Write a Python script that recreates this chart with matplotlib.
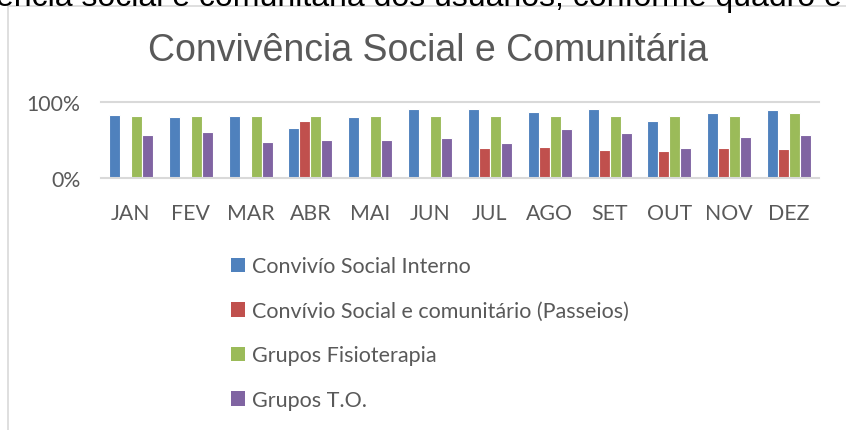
import numpy as np
import matplotlib.pyplot as plt
from matplotlib.patches import Rectangle
from matplotlib.ticker import PercentFormatter

meses = ['JAN', 'FEV', 'MAR', 'ABR', 'MAI', 'JUN', 'JUL', 'AGO', 'SET', 'OUT', 'NOV', 'DEZ']
convivio_interno = [0.83, 0.80, 0.82, 0.66, 0.80, 0.91, 0.91, 0.87, 0.91, 0.75, 0.86, 0.89]
convivio_passeios = [0, 0, 0, 0.75, 0, 0, 0.39, 0.41, 0.37, 0.36, 0.39, 0.38]
grupos_fisio = [0.82, 0.82, 0.82, 0.82, 0.82, 0.82, 0.82, 0.82, 0.82, 0.81, 0.81, 0.86]
grupos_to = [0.57, 0.60, 0.48, 0.50, 0.50, 0.53, 0.46, 0.65, 0.59, 0.39, 0.54, 0.56]

series = [
    ('Convivío Social Interno', convivio_interno, '#4f81bd'),
    ('Convívio Social e comunitário (Passeios)', convivio_passeios, '#c0504d'),
    ('Grupos Fisioterapia', grupos_fisio, '#9bbb59'),
    ('Grupos T.O.', grupos_to, '#8064a2'),
]

W, H = 846, 431
fig = plt.figure(figsize=(W / 100, H / 100), dpi=100)

# chart border (cut off on the right / bottom)
fig.add_artist(Rectangle((8 / W, -0.2), 1.2, 1.2 - 7 / H,
                         transform=fig.transFigure, fill=False,
                         edgecolor='#d9d9d9', lw=1.2))

# document text cut off at the top
fig.text(-4 / W, 1 - 6 / H, 'ência social e comunitária dos usuários, conforme quadro e',
         family='Liberation Sans', fontsize=23, color='black', ha='left', va='baseline')

ax = fig.add_axes([101 / W, 1 - 179 / H, 718 / W, 76 / H])
x = np.arange(len(meses))
w = 11 / 60
for i, (nome, vals, cor) in enumerate(series):
    ax.bar(x + (i - 1.5) * w, vals, w, color=cor, edgecolor='white', lw=0.8, label=nome)

ax.set_xlim(-0.5, len(meses) - 0.5)
ax.set_ylim(0, 1)
ax.set_yticks([0, 1])
ax.yaxis.set_major_formatter(PercentFormatter(1.0, decimals=0))
ax.set_xticks(x)
ax.set_xticklabels(meses)
for s in ['left', 'right']:
    ax.spines[s].set_visible(False)
for s in ['top', 'bottom']:
    ax.spines[s].set_color('#d9d9d9')
    ax.spines[s].set_linewidth(1.5)
ax.tick_params(length=0)
ax.tick_params(axis='y', pad=15, labelsize=15.3, labelcolor='#595959')
ax.tick_params(axis='x', pad=18, labelsize=15.3, labelcolor='#595959')
for lab in ax.get_xticklabels() + ax.get_yticklabels():
    lab.set_family('Lato')

fig.text(428 / W, 1 - 51 / H, 'Convivência Social e Comunitária', family='Liberation Sans',
         fontsize=27, color='#595959', ha='center', va='center')

leg = ax.legend(loc='upper left', bbox_to_anchor=(212 / W, 1 - 238 / H),
                bbox_transform=fig.transFigure, frameon=False, ncol=1,
                prop={'family': 'Lato', 'size': 15.5}, labelcolor='#595959',
                handlelength=0.65, handleheight=0.65, handletextpad=0.3, labelspacing=1.14)
for hnd in leg.legend_handles:
    hnd.set_edgecolor('none')

fig.savefig('out.png', dpi=100)
